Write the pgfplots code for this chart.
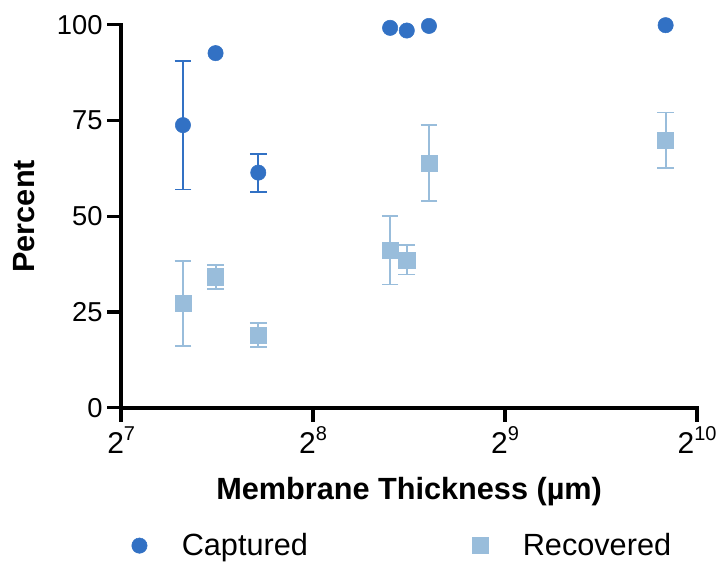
\documentclass[border=0pt]{standalone}
\usepackage{fontspec}
\setmainfont{Liberation Sans}
\usepackage{pgfplots}
\usepackage{pgfplotstable}
\pgfplotsset{compat=1.18}

\definecolor{capblue}{RGB}{50,113,196}
\definecolor{recblue}{RGB}{153,189,219}

% power-of-two tick label with a raised exponent
\newcommand{\powtwo}[1]{2\raisebox{0.45em}{\fontsize{15}{15}\selectfont #1}}

% thickness (um), mean percent, upper and lower error
\pgfplotstableread{
x   y
160 73.8
180 92.6
210 61.4
338 99.2
359 98.5
389 99.7
914 99.9
}\captured

\pgfplotstableread{
x   y     ep    em
160 73.8  16.7  16.8
210 61.4  4.9   5.0
}\capturederr

\pgfplotstableread{
x   y     ep    em
160 27.3  11.0  11.2
180 34.2  3.0   3.2
210 18.9  3.2   3.0
338 41.2  8.9   9.0
359 38.6  3.8   3.8
389 63.9  9.9   10.0
914 69.9  7.2   7.2
}\recovered

\begin{document}
\begin{tikzpicture}
\begin{axis}[
  scale only axis,
  width=432pt, height=287.25pt,
  xmode=log, log basis x=2,
  xmin=128, xmax=1024,
  ymin=0, ymax=100,
  xtick={128,256,512,1024},
  xticklabels={\powtwo{7},\powtwo{8},\powtwo{9},\powtwo{10}},
  ytick={0,25,50,75,100},
  minor tick num=0,
  minor x tick style={draw=none},
  axis lines=left,
  axis line style={-, line width=2.75pt, line cap=rect},
  tick style={line width=2.5pt, black},
  major tick length=10.5pt,
  tick align=outside,
  /pgf/number format/assume math mode=true,
  yticklabel style={font=\fontsize{20.5}{24}\selectfont},
  xticklabel style={font=\fontsize{22.5}{26}\selectfont},
  xlabel={Membrane Thickness (µm)},
  ylabel={Percent},
  every axis x label/.style={at={(axis description cs:0.5,-0.219)}, anchor=center,
    font=\bfseries\fontsize{23}{27}\selectfont},
  every axis y label/.style={at={(axis description cs:-0.169,0.5)}, anchor=center,
    rotate=90, font=\bfseries\fontsize{23}{27}\selectfont},
  clip=false,
  legend columns=2,
  legend style={
    draw=none, fill=none,
    at={(axis description cs:0.489,-0.36)}, anchor=center,
    font=\fontsize{23}{27}\selectfont,
    /tikz/every odd column/.append style={column sep=24pt},
    /tikz/every even column/.append style={column sep=121pt},
  },
  error bars/y dir=both,
  error bars/y explicit,
]
% error bars drawn first, behind the markers
\addplot [forget plot, draw=none, mark=none,
  error bars/error bar style={capblue, line width=1.4pt},
  error bars/error mark options={rotate=90, capblue, mark size=6.25pt, line width=1.4pt}]
  table [x=x, y=y, y error plus=ep, y error minus=em] {\capturederr};
\addplot [forget plot, draw=none, mark=none,
  error bars/error bar style={recblue, line width=1.4pt},
  error bars/error mark options={rotate=90, recblue, mark size=6.25pt, line width=1.4pt}]
  table [x=x, y=y, y error plus=ep, y error minus=em] {\recovered};

\addplot [only marks, mark=*, mark size=5.75pt, capblue,
  mark options={draw=capblue, fill=capblue}, error bars/y dir=none]
  table [x=x, y=y] {\captured};
\addlegendentry{Captured}
\addplot [only marks, mark=square*, mark size=6.1pt, recblue,
  mark options={draw=recblue, fill=recblue}, error bars/y dir=none]
  table [x=x, y=y] {\recovered};
\addlegendentry{Recovered}
\end{axis}
% white margin above and to the left of the chart
\path ([xshift=-6.5pt]current bounding box.west) ([yshift=8pt]current bounding box.north);
\end{tikzpicture}
\end{document}
